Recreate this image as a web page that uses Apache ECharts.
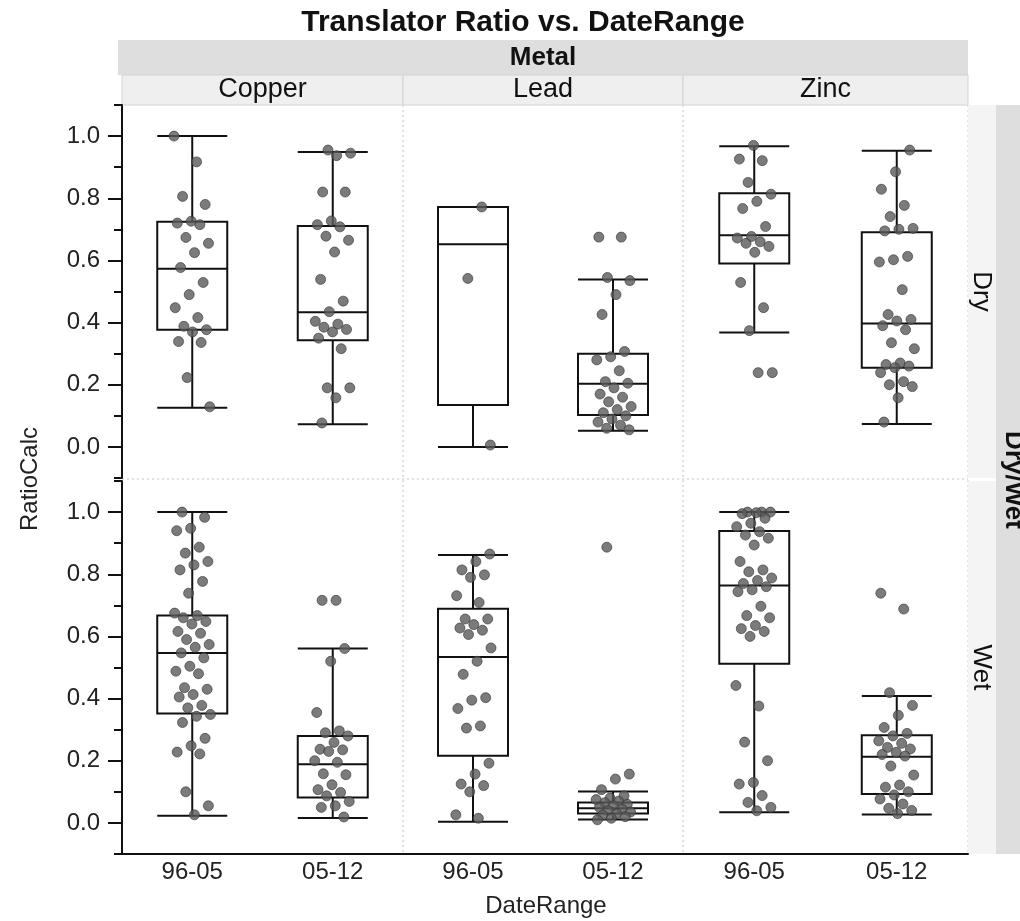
<!DOCTYPE html>
<html>
<head>
<meta charset="utf-8">
<title>Translator Ratio vs. DateRange</title>
<script src="https://cdn.jsdelivr.net/npm/echarts@6/dist/echarts.min.js"></script>
<style>
  html, body { margin: 0; padding: 0; background: #fff; }
  #main { width: 1020px; height: 921px; }
</style>
</head>
<body>
<div id="main"></div>
<script>
var metals = ['Copper', 'Lead', 'Zinc'];
var wetDry = ['Dry', 'Wet'];
var dateRanges = ['96-05', '05-12'];
var yTicks = [0, 0.2, 0.4, 0.6, 0.8, 1.0];
var yMinorTicks = [-0.1, 0.1, 0.3, 0.5, 0.7, 0.9, 1.1];

// box stats per date range: [min, Q1, median, Q3, max]
var copperDryBox = [[0.126, 0.377, 0.573, 0.724, 1.0], [0.073, 0.343, 0.433, 0.711, 0.949]];
var leadDryBox = [[0.0, 0.135, 0.652, 0.772, 0.772], [0.052, 0.103, 0.203, 0.300, 0.539]];
var zincDryBox = [[0.368, 0.590, 0.681, 0.816, 0.967], [0.074, 0.255, 0.397, 0.691, 0.953]];
var copperWetBox = [[0.023, 0.352, 0.547, 0.667, 1.0], [0.016, 0.082, 0.189, 0.280, 0.561]];
var leadWetBox = [[0.004, 0.216, 0.534, 0.689, 0.862], [0.011, 0.030, 0.047, 0.066, 0.101]];
var zincWetBox = [[0.034, 0.512, 0.764, 0.939, 1.0], [0.027, 0.093, 0.213, 0.282, 0.408]];

// RatioCalc of each sample
var copperDry9605 = [1.0, 0.917, 0.806, 0.78, 0.726, 0.72, 0.715, 0.674, 0.655, 0.625, 0.577, 0.529, 0.49, 0.448, 0.416, 0.388, 0.377, 0.37, 0.339, 0.336, 0.223, 0.129];
var copperDry0512 = [0.955, 0.945, 0.937, 0.82, 0.82, 0.727, 0.715, 0.708, 0.678, 0.665, 0.627, 0.539, 0.469, 0.435, 0.404, 0.395, 0.385, 0.378, 0.37, 0.35, 0.316, 0.19, 0.19, 0.158, 0.077];
var leadDry9605 = [0.772, 0.542, 0.006];
var leadDry0512 = [0.675, 0.675, 0.545, 0.535, 0.49, 0.426, 0.307, 0.29, 0.28, 0.245, 0.21, 0.205, 0.19, 0.17, 0.16, 0.145, 0.13, 0.12, 0.11, 0.1, 0.09, 0.08, 0.07, 0.06, 0.055];
var zincDry9605 = [0.97, 0.926, 0.921, 0.851, 0.813, 0.79, 0.767, 0.709, 0.677, 0.672, 0.66, 0.655, 0.645, 0.626, 0.529, 0.448, 0.374, 0.239, 0.239];
var zincDry0512 = [0.955, 0.885, 0.829, 0.777, 0.741, 0.703, 0.7, 0.695, 0.613, 0.602, 0.595, 0.506, 0.426, 0.41, 0.405, 0.39, 0.377, 0.335, 0.316, 0.27, 0.265, 0.26, 0.255, 0.239, 0.21, 0.2, 0.194, 0.158, 0.08];
var copperWet9605 = [1.0, 0.983, 0.948, 0.94, 0.887, 0.868, 0.841, 0.83, 0.814, 0.777, 0.739, 0.675, 0.667, 0.66, 0.648, 0.64, 0.616, 0.61, 0.59, 0.574, 0.565, 0.547, 0.531, 0.504, 0.488, 0.48, 0.435, 0.43, 0.413, 0.405, 0.378, 0.37, 0.349, 0.343, 0.323, 0.272, 0.248, 0.228, 0.222, 0.1, 0.055, 0.026];
var copperWet0512 = [0.716, 0.716, 0.561, 0.52, 0.355, 0.296, 0.29, 0.28, 0.259, 0.237, 0.235, 0.23, 0.2, 0.195, 0.158, 0.155, 0.123, 0.107, 0.098, 0.087, 0.069, 0.055, 0.05, 0.019];
var leadWet9605 = [0.865, 0.841, 0.814, 0.798, 0.79, 0.731, 0.709, 0.656, 0.656, 0.638, 0.627, 0.62, 0.606, 0.563, 0.52, 0.478, 0.403, 0.395, 0.368, 0.312, 0.305, 0.192, 0.157, 0.125, 0.12, 0.1, 0.026, 0.015];
var leadWet0512 = [0.887, 0.157, 0.141, 0.107, 0.087, 0.08, 0.075, 0.07, 0.065, 0.06, 0.055, 0.05, 0.045, 0.04, 0.035, 0.03, 0.025, 0.02, 0.015, 0.01];
var zincWet9605 = [1.0, 1.0, 1.0, 0.998, 0.995, 0.98, 0.964, 0.953, 0.937, 0.926, 0.916, 0.894, 0.841, 0.814, 0.808, 0.788, 0.78, 0.77, 0.76, 0.75, 0.744, 0.697, 0.667, 0.66, 0.635, 0.625, 0.616, 0.6, 0.442, 0.376, 0.26, 0.2, 0.13, 0.125, 0.088, 0.066, 0.05, 0.039];
var zincWet0512 = [0.739, 0.688, 0.419, 0.378, 0.346, 0.307, 0.288, 0.28, 0.264, 0.256, 0.243, 0.238, 0.227, 0.22, 0.215, 0.183, 0.154, 0.122, 0.115, 0.1, 0.09, 0.077, 0.061, 0.047, 0.04, 0.03];

var panels = [
  {row: 0, col: 0, box: copperDryBox, pts: [copperDry9605, copperDry0512]},
  {row: 0, col: 1, box: leadDryBox, pts: [leadDry9605, leadDry0512]},
  {row: 0, col: 2, box: zincDryBox, pts: [zincDry9605, zincDry0512]},
  {row: 1, col: 0, box: copperWetBox, pts: [copperWet9605, copperWet0512]},
  {row: 1, col: 1, box: leadWetBox, pts: [leadWet9605, leadWet0512]},
  {row: 1, col: 2, box: zincWetBox, pts: [zincWet9605, zincWet0512]}
];

// layout of the facet cells
var cols = [
  {left: 122, width: 281},
  {left: 403, width: 280},
  {left: 683, width: 285}
];
var rowsPos = [
  {top: 105, height: 373},
  {top: 481, height: 373}
];
var FONT = '"Liberation Sans", Arial, Helvetica, sans-serif';

// spread points sideways like JMP jitter (not data, just placement)
function jitter(i, seed) {
  var t = (i * 0.6180339 + seed * 0.37) % 1;
  return (t - 0.5) * 0.26;
}

var myChart = echarts.init(document.getElementById('main'));

var grid = [], xAxis = [], yAxis = [], series = [];
panels.forEach(function (p, g) {
  var c = cols[p.col], r = rowsPos[p.row];
  var isBottom = p.row === 1;
  var isLeft = p.col === 0;
  grid.push({left: c.left, top: r.top, width: c.width, height: r.height});

  var xc = xAxis.length;
  xAxis.push({
    gridIndex: g, type: 'category', data: dateRanges, boundaryGap: true,
    axisLine: {show: isBottom, onZero: false, lineStyle: {color: '#111', width: 2}},
    axisTick: {show: false},
    axisLabel: {show: isBottom, fontSize: 24, fontFamily: FONT, color: '#222', margin: 6},
    splitLine: {show: false}
  });
  var xv = xAxis.length;
  xAxis.push({gridIndex: g, type: 'value', min: -0.5, max: 1.5, show: false,
    axisLine: {onZero: false}});

  var ym = yAxis.length;
  yAxis.push({
    gridIndex: g, type: 'value', min: -0.1, max: 1.1, show: isLeft, position: 'left',
    axisLine: {show: true, onZero: false, lineStyle: {color: '#111', width: 2}},
    axisTick: {show: true, customValues: yTicks, length: 14, lineStyle: {color: '#111', width: 2}},
    axisLabel: {
      customValues: yTicks, fontSize: 24, fontFamily: FONT, color: '#222', margin: 22,
      formatter: function (v) { return v.toFixed(1); }
    },
    splitLine: {show: false}
  });
  if (isLeft) {
    // minor ticks only
    yAxis.push({
      gridIndex: g, type: 'value', min: -0.1, max: 1.1, position: 'left', offset: 0,
      axisLine: {show: false, onZero: false},
      axisTick: {show: true, customValues: yMinorTicks, length: 8, lineStyle: {color: '#111', width: 2}},
      axisLabel: {show: false},
      splitLine: {show: false}
    });
  }

  series.push({
    type: 'boxplot', xAxisIndex: xc, yAxisIndex: ym,
    data: p.box, boxWidth: [70, 70], silent: true, z: 2,
    itemStyle: {color: '#fff', borderColor: '#111', borderWidth: 2}
  });
  var pts = [];
  p.pts.forEach(function (arr, k) {
    arr.forEach(function (v, i) {
      pts.push([k + jitter(i, g * 2 + k), v]);
    });
  });
  series.push({
    type: 'scatter', xAxisIndex: xv, yAxisIndex: ym, data: pts,
    symbolSize: 10, silent: true, z: 3,
    itemStyle: {color: '#5a5a5a', borderColor: '#363636', borderWidth: 0.8}
  });
});

// strips, facet borders, titles
var graphic = [];
graphic.push({type: 'rect', shape: {x: 118, y: 40, width: 850, height: 35}, style: {fill: '#dedede'}});
cols.forEach(function (c, i) {
  graphic.push({type: 'rect', shape: {x: c.left, y: 75, width: c.width, height: 30},
    style: {fill: '#efefef', stroke: '#d2d2d2', lineWidth: 1}});
  graphic.push({type: 'text', x: c.left + c.width / 2, y: 90,
    style: {text: metals[i], font: '27px ' + FONT, fill: '#111', textAlign: 'center', textVerticalAlign: 'middle'}});
});
graphic.push({type: 'text', x: 543, y: 58,
  style: {text: 'Metal', font: 'bold 26px ' + FONT, fill: '#111', textAlign: 'center', textVerticalAlign: 'middle'}});
graphic.push({type: 'rect', shape: {x: 996, y: 105, width: 30, height: 749}, style: {fill: '#dedede'}});
rowsPos.forEach(function (r, i) {
  graphic.push({type: 'rect', shape: {x: 968, y: r.top, width: 28, height: r.height},
    style: {fill: '#f4f4f4'}});
  graphic.push({type: 'text', x: 981, y: r.top + r.height / 2, rotation: -Math.PI / 2,
    style: {text: wetDry[i], font: '26px ' + FONT, fill: '#111', textAlign: 'center', textVerticalAlign: 'middle'}});
});
graphic.push({type: 'text', x: 1013, y: 480, rotation: -Math.PI / 2,
  style: {text: 'Dry/Wet', font: 'bold 26px ' + FONT, fill: '#111', textAlign: 'center', textVerticalAlign: 'middle'}});
// dotted facet separators
[403, 683, 968].forEach(function (x) {
  graphic.push({type: 'line', z: -1, shape: {x1: x, y1: 105, x2: x, y2: 853},
    style: {stroke: '#c4c4c4', lineWidth: 1, lineDash: [2, 3]}});
});
graphic.push({type: 'line', z: -1, shape: {x1: 122, y1: 479, x2: 968, y2: 479},
  style: {stroke: '#c4c4c4', lineWidth: 1, lineDash: [2, 3]}});
graphic.push({type: 'text', x: 523, y: 23,
  style: {text: 'Translator Ratio vs. DateRange', font: 'bold 30px ' + FONT, fill: '#111', textAlign: 'center', textVerticalAlign: 'middle'}});
graphic.push({type: 'text', x: 30, y: 479, rotation: Math.PI / 2,
  style: {text: 'RatioCalc', font: '24px ' + FONT, fill: '#222', textAlign: 'center', textVerticalAlign: 'middle'}});
graphic.push({type: 'text', x: 546, y: 906,
  style: {text: 'DateRange', font: '24px ' + FONT, fill: '#222', textAlign: 'center', textVerticalAlign: 'middle'}});

var option = {
  animation: false,
  backgroundColor: '#fff',
  grid: grid,
  xAxis: xAxis,
  yAxis: yAxis,
  series: series,
  graphic: graphic
};
myChart.setOption(option);
</script>
</body>
</html>
